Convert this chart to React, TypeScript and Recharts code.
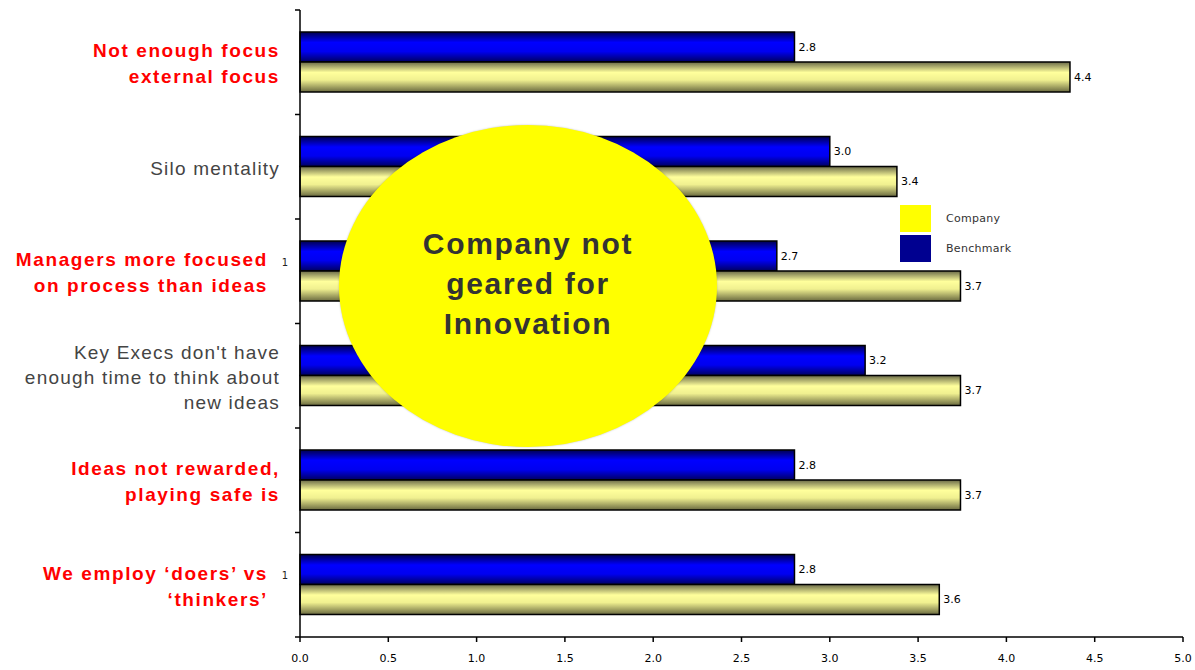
import React from 'react';
import { BarChart, Bar, XAxis, YAxis, LabelList, Legend } from 'recharts';

const categories = [
  'Not enough focus external focus',
  'Silo mentality',
  'Managers more focused on process than ideas',
  "Key Execs don't have enough time to think about new ideas",
  'Ideas not rewarded, playing safe is',
  'We employ ‘doers’ vs ‘thinkers’',
];
const labelLines = [
  ['Not enough focus', 'external focus'],
  ['Silo mentality'],
  ['Managers more focused', 'on process than ideas'],
  ["Key Execs don't have", 'enough time to think about', 'new ideas'],
  ['Ideas not rewarded,', 'playing safe is'],
  ['We employ ‘doers’ vs', '‘thinkers’'],
];
const highlighted = [true, false, true, false, true, true];
const footnotes = ['', '', '1', '', '', '1'];
const benchmark = [2.8, 3.0, 2.7, 3.2, 2.8, 2.8];
const company = [4.36, 3.38, 3.74, 3.74, 3.74, 3.62];
const xTicks = [0, 0.5, 1, 1.5, 2, 2.5, 3, 3.5, 4, 4.5, 5];
const legendItems = [
  { name: 'Company', color: '#ffff00' },
  { name: 'Benchmark', color: '#000090' },
];

const data = categories.map((name, i) => ({
  name,
  Benchmark: benchmark[i],
  Company: company[i],
}));

const W = 1195;
const H = 670;
const M = { top: 10, right: 12, left: 0, bottom: 8 };
const X_AXIS_H = 25;
const BAND = (H - M.top - M.bottom - X_AXIS_H) / categories.length;

const CategoryTick = (props: any) => {
  const { x, y, payload } = props;
  const i = categories.indexOf(payload.value);
  const lines = labelLines[i] || [];
  const red = highlighted[i];
  const lh = red ? 26 : 25;
  const note = footnotes[i];
  const tx = note ? x - 32 : x - 20;
  const startY = y + 1 - ((lines.length - 1) * lh) / 2;
  return (
    <g>
      <line x1={x - 5} x2={x} y1={y - BAND / 2} y2={y - BAND / 2} stroke="#000" strokeWidth={1.5} />
      {i === categories.length - 1 && (
        <line x1={x - 5} x2={x} y1={y + BAND / 2} y2={y + BAND / 2} stroke="#000" strokeWidth={1.5} />
      )}
      <text
        x={tx}
        y={startY}
        textAnchor="end"
        dominantBaseline="central"
        fontFamily="'Liberation Sans', Arial, sans-serif"
        fontSize={19}
        fontWeight={red ? 'bold' : 'normal'}
        letterSpacing={red ? 1.6 : 1.2}
        fill={red ? '#ff0000' : '#444444'}
      >
        {lines.map((l, k) => (
          <tspan key={k} x={tx} dy={k === 0 ? 0 : lh}>
            {l}
          </tspan>
        ))}
      </text>
      {note && (
        <text x={x - 15} y={y - 9} textAnchor="middle" dominantBaseline="central" fontSize={10} fontFamily="'DejaVu Sans', sans-serif" fill="#222">
          {note}
        </text>
      )}
    </g>
  );
};

const renderLegend = () => (
  <div>
    {legendItems.map((item) => (
      <div key={item.name} style={{ display: 'flex', alignItems: 'center', height: 30 }}>
        <div style={{ width: 31, height: 27, background: item.color }} />
        <span style={{ marginLeft: 15, fontSize: 11, letterSpacing: 0.3, fontFamily: "'DejaVu Sans', sans-serif", color: '#333' }}>
          {item.name}
        </span>
      </div>
    ))}
  </div>
);

const fmt = (v: any) => Number(v).toFixed(1);

export default function App() {
  return (
    <div style={{ position: 'relative', width: W, height: H, background: '#fff' }}>
      <style>{'html,body{margin:0;padding:0;overflow:hidden}'}</style>
      <BarChart
        width={W}
        height={H}
        data={data}
        layout="vertical"
        margin={M}
        barGap={0}
        barSize={30}
        style={{ overflow: 'visible' }}
      >
        <defs>
          <linearGradient id="gBlue" x1="0" y1="0" x2="0" y2="1">
            <stop offset="0%" stopColor="#000050" />
            <stop offset="35%" stopColor="#0000ff" />
            <stop offset="65%" stopColor="#0000f0" />
            <stop offset="100%" stopColor="#000060" />
          </linearGradient>
          <linearGradient id="gYellow" x1="0" y1="0" x2="0" y2="1">
            <stop offset="0%" stopColor="#6a6a48" />
            <stop offset="35%" stopColor="#ffff9c" />
            <stop offset="60%" stopColor="#f0f090" />
            <stop offset="100%" stopColor="#6a6a40" />
          </linearGradient>
        </defs>
        <XAxis
          type="number"
          domain={[0, 5]}
          ticks={xTicks}
          tickFormatter={fmt}
          interval={0}
          height={X_AXIS_H}
          axisLine={{ stroke: '#000', strokeWidth: 1.5 }}
          tickLine={{ stroke: '#000', strokeWidth: 1.5 }}
          tickSize={5}
          tickMargin={12}
          tick={{ fontSize: 11, fill: '#000', fontFamily: "'DejaVu Sans', sans-serif" }}
        />
        <XAxis
          xAxisId="top"
          orientation="top"
          type="number"
          domain={[0, 5]}
          height={0}
          tick={false}
          tickLine={false}
          axisLine={{ stroke: '#999' }}
        />
        <YAxis
          type="category"
          dataKey="name"
          width={300}
          tickLine={false}
          tickSize={0}
          tickMargin={0}
          interval={0}
          axisLine={{ stroke: '#000', strokeWidth: 1.5 }}
          tick={<CategoryTick />}
        />
        <YAxis
          yAxisId="right"
          orientation="right"
          type="category"
          dataKey="name"
          width={0}
          tick={false}
          tickLine={false}
          axisLine={{ stroke: '#999' }}
        />
        <Legend
          layout="vertical"
          align="center"
          verticalAlign="middle"
          content={renderLegend}
          wrapperStyle={{ position: 'absolute', left: 900, top: 203, width: 140 }}
        />
        <Bar dataKey="Benchmark" fill="url(#gBlue)" stroke="#000" strokeWidth={1.5} isAnimationActive={false}>
          <LabelList dataKey="Benchmark" position="right" offset={4} formatter={fmt} fontSize={11} fill="#000" fontFamily="'DejaVu Sans', sans-serif" />
        </Bar>
        <Bar dataKey="Company" fill="url(#gYellow)" stroke="#000" strokeWidth={1.5} isAnimationActive={false}>
          <LabelList dataKey="Company" position="right" offset={4} formatter={fmt} fontSize={11} fill="#000" fontFamily="'DejaVu Sans', sans-serif" />
        </Bar>
      </BarChart>
      <div
        style={{
          position: 'absolute',
          left: 339,
          top: 125,
          width: 378,
          height: 322,
          borderRadius: '50%',
          background: '#ffff00',
          boxShadow: '0 0 2px rgba(0,0,0,0.25)',
          display: 'flex',
          alignItems: 'center',
          justifyContent: 'center',
          textAlign: 'center',
          fontFamily: "'Liberation Sans', Arial, sans-serif",
          fontWeight: 'bold',
          fontSize: 30,
          letterSpacing: 1.7,
          lineHeight: '40px',
          color: '#333333',
          paddingBottom: 4,
          boxSizing: 'border-box',
        }}
      >
        <div>
          Company not
          <br />
          geared for
          <br />
          Innovation
        </div>
      </div>
    </div>
  );
}
